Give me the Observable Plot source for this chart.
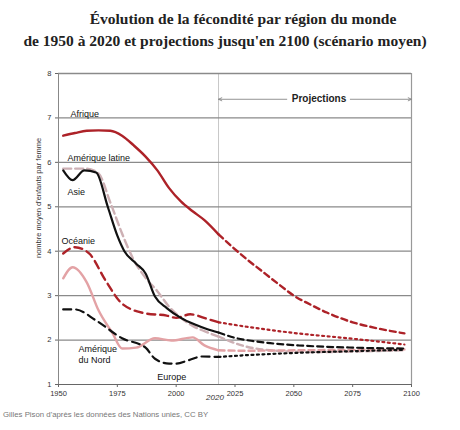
<!DOCTYPE html>
<html><head><meta charset="utf-8">
<script src="https://cdn.jsdelivr.net/npm/d3@7"></script>
<script src="https://cdn.jsdelivr.net/npm/@observablehq/plot@0.6"></script>
<style>
body{margin:0;background:#fff;width:460px;height:430px;position:relative;overflow:hidden;font-family:"Liberation Sans",Arial,sans-serif}
.t{position:absolute;white-space:nowrap;transform:translateX(-50%);font-family:"Liberation Serif",serif;font-weight:bold;font-size:15.5px;color:#222;line-height:1}
#chart{position:absolute;left:0;top:55px}
#cap{position:absolute;left:3px;top:410px;font-size:7.8px;color:#777;white-space:nowrap}
</style></head><body>
<div class="t" style="left:243px;top:11px">Évolution de la fécondité par région du monde</div>
<div class="t" style="left:225px;top:33px">de 1950 à 2020 et projections jusqu'en 2100 (scénario moyen)</div>
<div id="chart"></div>
<div id="cap">Gilles Pison d'après les données des Nations unies, CC BY</div>
<script>
// ---- Data ----
const afriqueYears = [1952,1957,1962,1967,1972,1977,1982,1987,1992,1997,2002,2007,2012,2018];
const afriqueValues = [6.6,6.66,6.71,6.72,6.71,6.6,6.38,6.13,5.82,5.42,5.12,4.9,4.7,4.38];
const afriqueProjYears = [2018,2024,2030,2036,2043,2050,2057,2064,2075,2085,2097];
const afriqueProjValues = [4.38,4.09,3.82,3.57,3.28,3.0,2.8,2.62,2.4,2.27,2.15];

const latinYears = [1952,1957,1962,1967,1972,1977,1982,1987,1992,1997,2002,2007,2012,2018];
const latinValues = [5.86,5.86,5.86,5.75,5.1,4.4,3.8,3.4,3.1,2.75,2.5,2.32,2.2,2.08];
const latinProjYears = [2018,2025,2030,2040,2050,2060,2075,2090,2097];
const latinProjValues = [2.08,1.93,1.85,1.77,1.74,1.73,1.74,1.76,1.77];

const asieYears = [1952,1956,1961,1966,1971,1975,1978,1983,1987,1991,1996,2002,2008,2013,2018];
const asieValues = [5.82,5.6,5.82,5.77,4.99,4.35,4.0,3.72,3.5,2.98,2.72,2.5,2.35,2.25,2.17];
const asieProjYears = [2018,2025,2031,2040,2052,2075,2097];
const asieProjValues = [2.17,2.05,1.99,1.93,1.88,1.83,1.81];

const oceanieYears = [1952,1957,1963,1970,1977,1987,1996,2000,2006,2013,2018];
const oceanieValues = [3.95,4.09,3.95,3.34,2.82,2.6,2.55,2.5,2.58,2.48,2.4];
const oceanieProjYears = [2018,2030,2050,2075,2097];
const oceanieProjValues = [2.4,2.3,2.16,2.03,1.9];

const nordYears = [1952,1956,1962,1967,1973,1977,1983,1991,1998,2007,2012,2018];
const nordValues = [3.39,3.64,3.3,2.67,2.15,1.81,1.83,2.04,1.99,2.06,1.88,1.77];
const nordProjYears = [2018,2030,2050,2075,2097];
const nordProjValues = [1.77,1.76,1.77,1.78,1.79];

const europeYears = [1952,1957,1966,1977,1987,1991,1997,2000,2005,2011,2018];
const europeValues = [2.69,2.69,2.44,2.04,1.83,1.58,1.47,1.47,1.54,1.63,1.62];
const europeProjYears = [2018,2030,2050,2075,2097];
const europeProjValues = [1.62,1.66,1.71,1.75,1.78];

const xTicks = [1950,1975,2000,2025,2050,2075,2100];
const yTicks = [1,2,3,4,5,6,7,8];
const gridValues = [2,3,4,5,6,7,8];
const projectionStart = 2018;

// ---- Annotations ----
const labelTexts = ["Afrique","Amérique latine","Asie","Océanie","Amérique\ndu Nord","Europe"];
const labelX = [1955.1,1953.8,1953.8,1951.3,1958.5,1992];
const labelY = [7.10,6.11,5.35,4.24,1.68,1.18];
const labels = labelTexts.map((t,i)=>({t, x: labelX[i], y: labelY[i]}));
const projArrows = [{x1:2047,x2:2018,y:7.42},{x1:2074,x2:2100,y:7.42}];

const rows = (ys, vs) => ys.map((x,i)=>({x, y: vs[i]}));

const RED = "#ad2228", PINK = "#e3a2a5", PALE = "#cdb0b4", BLACK = "#111";

const series = [
  {d: rows(latinYears, latinValues), stroke: PALE, dash: "8,4", w: 2.4},
  {d: rows(latinProjYears, latinProjValues), stroke: PALE, dash: "6,4", w: 2.4},
  {d: rows(nordYears, nordValues), stroke: PINK, dash: null, w: 2.4},
  {d: rows(nordProjYears, nordProjValues), stroke: PINK, dash: "6,4", w: 2.4},
  {d: rows(europeYears, europeValues), stroke: BLACK, dash: "8,5", w: 2.2},
  {d: rows(europeProjYears, europeProjValues), stroke: BLACK, dash: "2,3.5", w: 2.2},
  {d: rows(oceanieYears, oceanieValues), stroke: RED, dash: "8,5", w: 2.4},
  {d: rows(oceanieProjYears, oceanieProjValues), stroke: RED, dash: "2,3.5", w: 2.2},
  {d: rows(asieYears, asieValues), stroke: BLACK, dash: null, w: 2.2},
  {d: rows(asieProjYears, asieProjValues), stroke: BLACK, dash: "6,4", w: 2.2},
  {d: rows(afriqueYears, afriqueValues), stroke: RED, dash: null, w: 2.4},
  {d: rows(afriqueProjYears, afriqueProjValues), stroke: RED, dash: "6,4", w: 2.4}
];

const chart = Plot.plot({
  width: 460,
  height: 360,
  marginLeft: 58,
  marginRight: 49,
  marginTop: 18,
  marginBottom: 31,
  x: {domain: [1950, 2100]},
  y: {domain: [1, 8]},
  style: {fontFamily: "'Liberation Sans', Arial, sans-serif", fontSize: "7.5px", background: "white", overflow: "visible", color: "#333"},
  marks: [
    Plot.ruleX([projectionStart], {stroke: "#c8c8c8", strokeWidth: 1}),
    Plot.ruleY(gridValues, {stroke: "#8a8a8a", strokeWidth: 1.3}),
    Plot.ruleX([2100], {stroke: "#999", strokeWidth: 1.2}),
    Plot.ruleX([1950], {stroke: "#888", strokeWidth: 1}),
    Plot.ruleY([1], {stroke: "#666", strokeWidth: 1.2}),
    Plot.axisX({ticks: xTicks, tickFormat: d => String(d), tickSize: 3, tickPadding: 3, label: null, stroke: "#666"}),
    Plot.axisY({ticks: yTicks, tickFormat: d => String(d), tickSize: 3, tickPadding: 4, label: null, stroke: "#666"}),
    Plot.text(["nombre moyen d'enfants par femme"], {x: () => 1950, y: () => 5.2, rotate: -90, dx: -20, fontSize: 7.5, fill: "#333"}),
    Plot.text(["2020"], {x: () => 2016.5, y: () => 0.72, fontStyle: "italic", fontSize: 8, fill: "#333"}),
    ...series.map(s => Plot.line(s.d, {x: "x", y: "y", stroke: s.stroke, strokeWidth: s.w, strokeDasharray: s.dash, curve: "monotone-x"})),
    Plot.arrow(projArrows, {x1: "x1", x2: "x2", y1: "y", y2: "y", stroke: "#888", strokeWidth: 0.9, headLength: 6, headAngle: 50}),
    Plot.text(["Projections"], {x: () => 2060.7, y: () => 7.42, fontSize: 10, fontWeight: "bold", fill: "#222"}),
    Plot.text(labels, {x: "x", y: "y", text: "t", textAnchor: "start", fontSize: 9, fill: "#111", lineHeight: 1.15})
  ]
});
document.getElementById("chart").appendChild(chart);
</script>
</body></html>
